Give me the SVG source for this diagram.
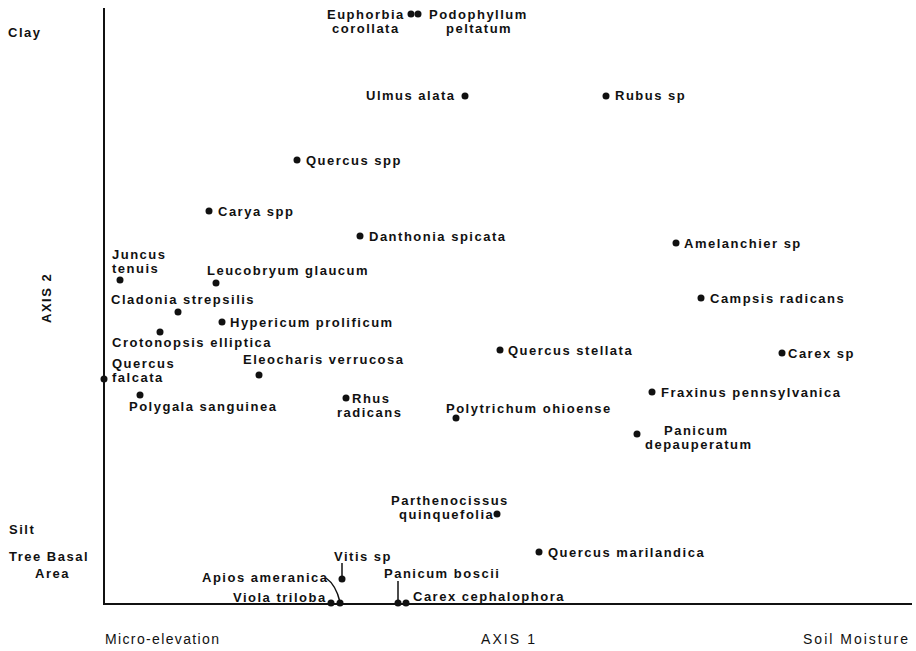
<svg xmlns="http://www.w3.org/2000/svg" width="916" height="651" viewBox="0 0 916 651">
<style>
.t{font-family:"Liberation Sans",Arial,sans-serif;font-weight:bold;font-size:13px;letter-spacing:1.5px;fill:#111}
.b{font-family:"Liberation Sans",Arial,sans-serif;font-size:14px;fill:#111}
.d{fill:#111}
.ax{stroke:#111;stroke-width:2;fill:none}
.ln{stroke:#111;stroke-width:1.5;fill:none}
</style>
<rect width="916" height="651" fill="#fff"/>
<g id="axes">
<path class="ax" d="M104,8 V604 H912"/>
</g>
<g id="axis-labels">
<text class="t" x="8" y="37">Clay</text>
<text class="t" x="9" y="534">Silt</text>
<text class="t" x="9" y="561">Tree Basal</text>
<text class="t" x="35" y="578">Area</text>
<text class="t" transform="translate(51,323) rotate(-90)">AXIS 2</text>
<text class="b" x="105" y="644" textLength="114" lengthAdjust="spacing">Micro-elevation</text>
<text class="b" x="481" y="644" textLength="54" lengthAdjust="spacing">AXIS 1</text>
<text class="b" x="803" y="644" textLength="105" lengthAdjust="spacing">Soil Moisture</text>
</g>
<g id="connectors">
<path class="ln" d="M342,563 V579"/>
<path class="ln" d="M326,578 Q336,585 340,602"/>
<path class="ln" d="M398,581 V603"/>
</g>
<g id="euphorbia"><circle class="d" cx="411" cy="14" r="3.5"/><text class="t" x="327" y="19">Euphorbia</text><text class="t" x="332" y="33">corollata</text></g>
<g id="podophyllum"><circle class="d" cx="418" cy="14" r="3.5"/><text class="t" x="429" y="19">Podophyllum</text><text class="t" x="446" y="33">peltatum</text></g>
<g id="ulmus"><circle class="d" cx="465" cy="96" r="3.5"/><text class="t" x="366" y="100">Ulmus alata</text></g>
<g id="rubus"><circle class="d" cx="606" cy="96" r="3.5"/><text class="t" x="615" y="100">Rubus sp</text></g>
<g id="quercus-spp"><circle class="d" cx="297" cy="160" r="3.5"/><text class="t" x="306" y="165">Quercus spp</text></g>
<g id="carya"><circle class="d" cx="209" cy="211" r="3.5"/><text class="t" x="218" y="216">Carya spp</text></g>
<g id="danthonia"><circle class="d" cx="360" cy="236" r="3.5"/><text class="t" x="369" y="241">Danthonia spicata</text></g>
<g id="amelanchier"><circle class="d" cx="676" cy="243" r="3.5"/><text class="t" x="684" y="248">Amelanchier sp</text></g>
<g id="juncus"><circle class="d" cx="120" cy="280" r="3.5"/><text class="t" x="112" y="259">Juncus</text><text class="t" x="112" y="273">tenuis</text></g>
<g id="leucobryum"><circle class="d" cx="216" cy="283" r="3.5"/><text class="t" x="207" y="275">Leucobryum glaucum</text></g>
<g id="cladonia"><circle class="d" cx="178" cy="312" r="3.5"/><text class="t" x="111" y="304">Cladonia strepsilis</text></g>
<g id="campsis"><circle class="d" cx="701" cy="298" r="3.5"/><text class="t" x="710" y="303">Campsis radicans</text></g>
<g id="hypericum"><circle class="d" cx="222" cy="322" r="3.5"/><text class="t" x="230" y="327">Hypericum prolificum</text></g>
<g id="crotonopsis"><circle class="d" cx="160" cy="332" r="3.5"/><text class="t" x="112" y="347">Crotonopsis elliptica</text></g>
<g id="quercus-falcata"><circle class="d" cx="104" cy="379" r="3.5"/><text class="t" x="112" y="368">Quercus</text><text class="t" x="112" y="382">falcata</text></g>
<g id="eleocharis"><circle class="d" cx="259" cy="375" r="3.5"/><text class="t" x="243" y="364">Eleocharis verrucosa</text></g>
<g id="quercus-stellata"><circle class="d" cx="500" cy="350" r="3.5"/><text class="t" x="508" y="355">Quercus stellata</text></g>
<g id="carex-sp"><circle class="d" cx="782" cy="353" r="3.5"/><text class="t" x="788" y="358">Carex sp</text></g>
<g id="polygala"><circle class="d" cx="140" cy="395" r="3.5"/><text class="t" x="129" y="411">Polygala sanguinea</text></g>
<g id="rhus"><circle class="d" cx="346" cy="398" r="3.5"/><text class="t" x="352" y="403">Rhus</text><text class="t" x="337" y="417">radicans</text></g>
<g id="fraxinus"><circle class="d" cx="652" cy="392" r="3.5"/><text class="t" x="661" y="397">Fraxinus pennsylvanica</text></g>
<g id="polytrichum"><circle class="d" cx="456" cy="418" r="3.5"/><text class="t" x="446" y="413">Polytrichum ohioense</text></g>
<g id="panicum-dep"><circle class="d" cx="637" cy="434" r="3.5"/><text class="t" x="664" y="435">Panicum</text><text class="t" x="645" y="449">depauperatum</text></g>
<g id="parthenocissus"><circle class="d" cx="497" cy="514" r="3.5"/><text class="t" x="391" y="505">Parthenocissus</text><text class="t" x="399" y="519">quinquefolia</text></g>
<g id="quercus-marilandica"><circle class="d" cx="539" cy="552" r="3.5"/><text class="t" x="548" y="557">Quercus marilandica</text></g>
<g id="vitis"><circle class="d" cx="342" cy="579" r="3.5"/><text class="t" x="334" y="561">Vitis sp</text></g>
<g id="apios"><circle class="d" cx="340" cy="603" r="3.5"/><text class="t" x="202" y="582">Apios ameranica</text></g>
<g id="viola"><circle class="d" cx="331" cy="603" r="3.5"/><text class="t" x="233" y="602">Viola triloba</text></g>
<g id="panicum-boscii"><circle class="d" cx="398" cy="603" r="3.5"/><text class="t" x="384" y="578">Panicum boscii</text></g>
<g id="carex-ceph"><circle class="d" cx="406" cy="603" r="3.5"/><text class="t" x="413" y="601">Carex cephalophora</text></g>
</svg>
